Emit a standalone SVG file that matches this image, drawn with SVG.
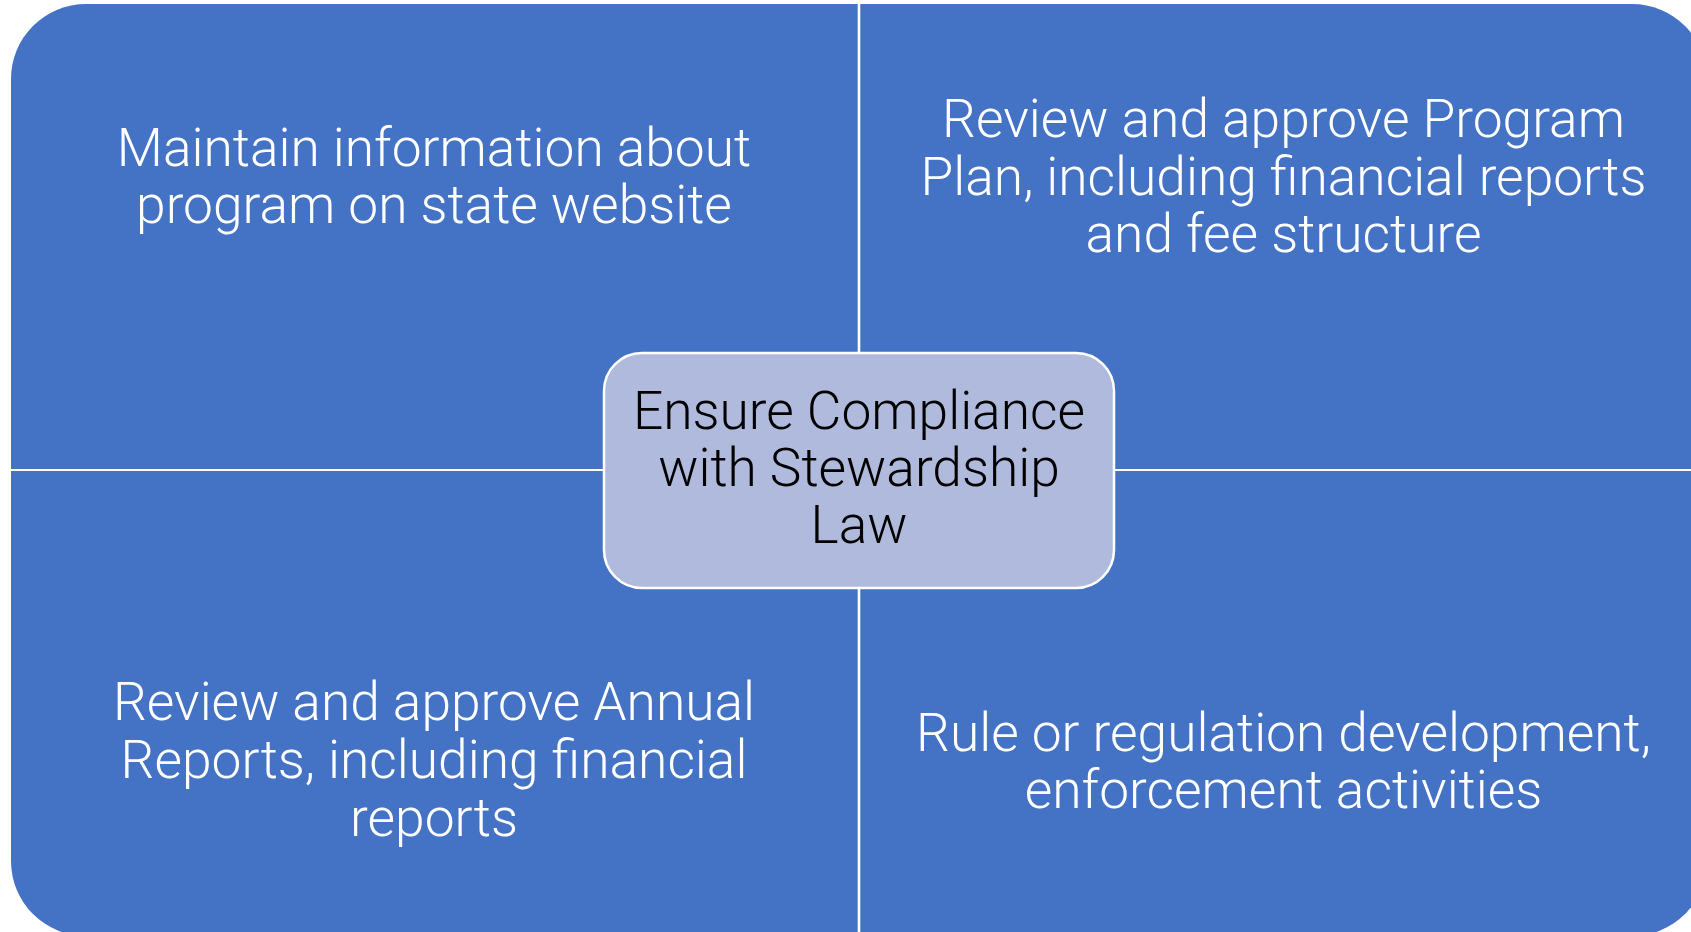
<svg xmlns="http://www.w3.org/2000/svg" width="1691" height="932" viewBox="0 0 1691 932">
<style>
.q{fill:#4472C4}
.t{font-family:Roboto,"Liberation Sans",sans-serif;font-weight:300;font-size:53.3px;text-anchor:middle;fill:#FFFFFF}
.c{fill:#000000}
</style>
<rect width="1691" height="932" fill="#FFFFFF"/>
<g id="q-tl">
<path class="q" d="M11,79 A75,75 0 0 1 86,4 L857.7,4 L857.7,469 L11,469 Z"/>
<text class="t" x="434" y="166">Maintain information about</text>
<text class="t" x="434" y="223">program on state website</text>
</g>
<g id="q-tr">
<path class="q" d="M860.3,4 L1632,4 A75,75 0 0 1 1707,79 L1707,469 L860.3,469 Z"/>
<text class="t" x="1283.5" y="137">Review and approve Program</text>
<text class="t" x="1283.5" y="195">Plan, including financial reports</text>
<text class="t" x="1283.5" y="252">and fee structure</text>
</g>
<g id="q-bl">
<path class="q" d="M11,471 L857.7,471 L857.7,936 L86,936 A75,75 0 0 1 11,861 Z"/>
<text class="t" x="434" y="720">Review and approve Annual</text>
<text class="t" x="434" y="778">Reports, including financial</text>
<text class="t" x="434" y="836">reports</text>
</g>
<g id="q-br">
<path class="q" d="M860.3,471 L1707,471 L1707,861 A75,75 0 0 1 1632,936 L860.3,936 Z"/>
<text class="t" x="1283.5" y="751">Rule or regulation development,</text>
<text class="t" x="1283.5" y="808">enforcement activities</text>
</g>
<g id="connectors"></g>
<g id="center">
<rect x="604" y="353" width="510" height="235" rx="38" ry="38" fill="#AFBADC" stroke="#FFFFFF" stroke-width="2.5"/>
<text class="t c" x="859" y="429">Ensure Compliance</text>
<text class="t c" x="859" y="486">with Stewardship</text>
<text class="t c" x="859" y="543">Law</text>
</g>
</svg>
